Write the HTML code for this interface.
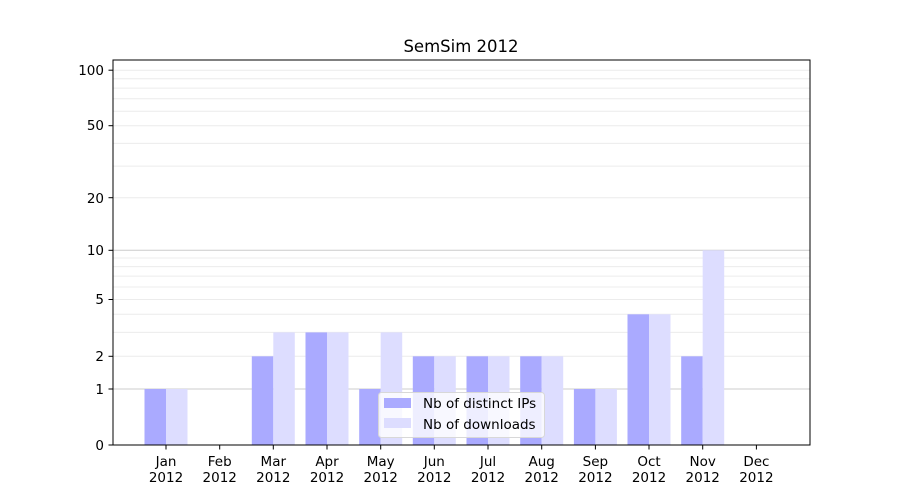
<!DOCTYPE html>
<html><head><meta charset="utf-8"><style>body{margin:0;background:#fff}svg{display:block}text{font-family:"DejaVu Sans","Liberation Sans",sans-serif;font-size:13.5px;fill:#000}</style></head><body>
<svg width="900" height="500" xmlns="http://www.w3.org/2000/svg">
<rect width="900" height="500" fill="#fff"/>
<g stroke="#ececec" stroke-width="1">
<line x1="113" x2="810" y1="356.3" y2="356.3"/><line x1="113" x2="810" y1="332.4" y2="332.4"/><line x1="113" x2="810" y1="314.3" y2="314.3"/><line x1="113" x2="810" y1="299.5" y2="299.5"/><line x1="113" x2="810" y1="287" y2="287"/><line x1="113" x2="810" y1="276.1" y2="276.1"/><line x1="113" x2="810" y1="266.6" y2="266.6"/><line x1="113" x2="810" y1="258" y2="258"/><line x1="113" x2="810" y1="197.7" y2="197.7"/><line x1="113" x2="810" y1="166.1" y2="166.1"/><line x1="113" x2="810" y1="143.4" y2="143.4"/><line x1="113" x2="810" y1="125.7" y2="125.7"/><line x1="113" x2="810" y1="111.2" y2="111.2"/><line x1="113" x2="810" y1="98.8" y2="98.8"/><line x1="113" x2="810" y1="88.1" y2="88.1"/><line x1="113" x2="810" y1="78.7" y2="78.7"/><line x1="113" x2="810" y1="70.2" y2="70.2"/>
</g>
<g stroke="#cccccc"><line x1="113" x2="810" y1="389" y2="389"/><line x1="113" x2="810" y1="250.3" y2="250.3"/></g>
<g fill="#aaaaff">
<rect x="144.5" y="389" width="21.5" height="56"/>
<rect x="251.8" y="356.3" width="21.5" height="88.7"/>
<rect x="305.5" y="332.4" width="21.5" height="112.6"/>
<rect x="359.2" y="389" width="21.5" height="56"/>
<rect x="412.8" y="356.3" width="21.5" height="88.7"/>
<rect x="466.5" y="356.3" width="21.5" height="88.7"/>
<rect x="520.2" y="356.3" width="21.5" height="88.7"/>
<rect x="573.9" y="389" width="21.5" height="56"/>
<rect x="627.5" y="314.3" width="21.5" height="130.7"/>
<rect x="681.2" y="356.3" width="21.5" height="88.7"/>
</g>
<g fill="#ddddff">
<rect x="166" y="389" width="21.5" height="56"/>
<rect x="273.3" y="332.4" width="21.5" height="112.6"/>
<rect x="327" y="332.4" width="21.5" height="112.6"/>
<rect x="380.7" y="332.4" width="21.5" height="112.6"/>
<rect x="434.3" y="356.3" width="21.5" height="88.7"/>
<rect x="488" y="356.3" width="21.5" height="88.7"/>
<rect x="541.7" y="356.3" width="21.5" height="88.7"/>
<rect x="595.4" y="389" width="21.5" height="56"/>
<rect x="649" y="314.3" width="21.5" height="130.7"/>
<rect x="702.7" y="250.3" width="21.5" height="194.7"/>
</g>
<rect x="113" y="60" width="697" height="385" fill="none" stroke="#000" stroke-width="1"/>
<g stroke="#000"><line x1="108.5" x2="113" y1="445" y2="445"/><line x1="108.5" x2="113" y1="389" y2="389"/><line x1="108.5" x2="113" y1="356.3" y2="356.3"/><line x1="108.5" x2="113" y1="299.5" y2="299.5"/><line x1="108.5" x2="113" y1="250.3" y2="250.3"/><line x1="108.5" x2="113" y1="197.7" y2="197.7"/><line x1="108.5" x2="113" y1="125.7" y2="125.7"/><line x1="108.5" x2="113" y1="70.2" y2="70.2"/></g>
<g text-anchor="end"><text x="104" y="450">0</text><text x="104" y="394">1</text><text x="104" y="361">2</text><text x="104" y="304">5</text><text x="104" y="255">10</text><text x="104" y="203">20</text><text x="104" y="130">50</text><text x="104" y="75">100</text></g>
<g stroke="#000"><line x1="166" x2="166" y1="445" y2="449.5"/><line x1="219.7" x2="219.7" y1="445" y2="449.5"/><line x1="273.3" x2="273.3" y1="445" y2="449.5"/><line x1="327" x2="327" y1="445" y2="449.5"/><line x1="380.7" x2="380.7" y1="445" y2="449.5"/><line x1="434.3" x2="434.3" y1="445" y2="449.5"/><line x1="488" x2="488" y1="445" y2="449.5"/><line x1="541.7" x2="541.7" y1="445" y2="449.5"/><line x1="595.4" x2="595.4" y1="445" y2="449.5"/><line x1="649" x2="649" y1="445" y2="449.5"/><line x1="702.7" x2="702.7" y1="445" y2="449.5"/><line x1="756.4" x2="756.4" y1="445" y2="449.5"/></g>
<g text-anchor="middle">
<text x="166" y="466">Jan</text><text x="166" y="482">2012</text>
<text x="219.7" y="466">Feb</text><text x="219.7" y="482">2012</text>
<text x="273.3" y="466">Mar</text><text x="273.3" y="482">2012</text>
<text x="327" y="466">Apr</text><text x="327" y="482">2012</text>
<text x="380.7" y="466">May</text><text x="380.7" y="482">2012</text>
<text x="434.3" y="466">Jun</text><text x="434.3" y="482">2012</text>
<text x="488" y="466">Jul</text><text x="488" y="482">2012</text>
<text x="541.7" y="466">Aug</text><text x="541.7" y="482">2012</text>
<text x="595.4" y="466">Sep</text><text x="595.4" y="482">2012</text>
<text x="649" y="466">Oct</text><text x="649" y="482">2012</text>
<text x="702.7" y="466">Nov</text><text x="702.7" y="482">2012</text>
<text x="756.4" y="466">Dec</text><text x="756.4" y="482">2012</text>
<text x="461" y="52" style="font-size:16.5px">SemSim 2012</text>
</g>
<rect x="378.5" y="392.5" width="166" height="45" rx="3" fill="#fff" fill-opacity="0.8" stroke="#d8d8d8"/>
<rect x="384" y="398" width="27" height="10" fill="#aaaaff"/>
<rect x="384" y="418" width="27" height="10" fill="#ddddff"/>
<text x="423" y="408">Nb of distinct IPs</text>
<text x="423" y="429">Nb of downloads</text>
</svg>
</body></html>
